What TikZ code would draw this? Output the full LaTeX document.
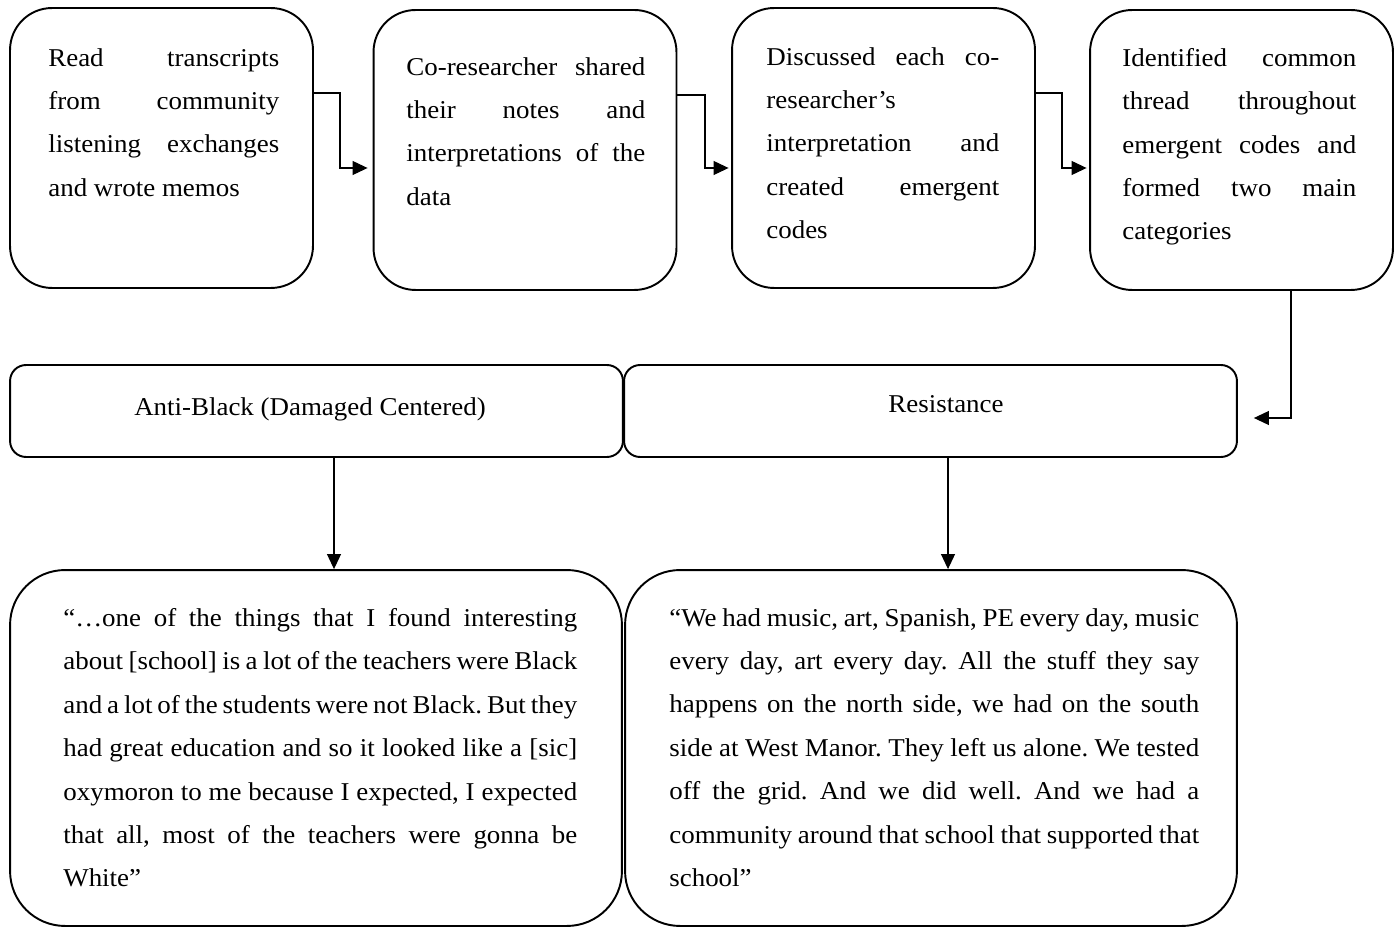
\documentclass[tikz,border=0pt]{standalone}
\usepackage{fontspec}
\setmainfont{Liberation Serif}[FakeStretch=1.05]
\usepackage{tikz}
\usetikzlibrary{arrows.meta}
\pgfdeclarelayer{edgelayer}
\pgfdeclarelayer{nodelayer}
\pgfsetlayers{edgelayer,nodelayer,main}
\frenchspacing
\hyphenpenalty=10000
\tolerance=10000
\newcommand{\memofont}{\fontsize{14.6}{24.7}\selectfont}
\tikzstyle{none}=[inner sep=0pt]
\tikzstyle{stage}=[draw=black,line width=1.1pt,rounded corners=0.84cm,minimum width=6.06cm,minimum height=5.6cm]
\tikzstyle{category}=[draw=black,line width=1.1pt,rounded corners=0.32cm,minimum width=12.26cm,minimum height=1.84cm]
\tikzstyle{excerpt}=[draw=black,line width=1.1pt,rounded corners=1.1cm,minimum width=12.24cm,minimum height=7.12cm]
\tikzstyle{body}=[inner sep=0pt,anchor=north west,align=justify,font=\memofont]
\tikzstyle{caption}=[inner sep=0pt,font=\memofont]
\tikzstyle{transition}=[-{Triangle[length=0.3cm,width=0.28cm]},draw=black,line width=0.6pt]

\begin{document}
\begin{tikzpicture}[x=0.02cm,y=-0.02cm]
	\useasboundingbox (0,0) rectangle (1399,928);
	\begin{pgfonlayer}{nodelayer}
		\node [style=stage] (0) at (161.5, 148) {};
		\node [style=stage] (1) at (525, 150) {};
		\node [style=stage] (2) at (883.5, 148) {};
		\node [style=stage] (3) at (1241.5, 150) {};
		\node [style=category] (4) at (316.5, 411) {};
		\node [style=category] (5) at (930.5, 411) {};
		\node [style=excerpt] (6) at (316, 748) {};
		\node [style=excerpt] (7) at (931, 748) {};
		\node [style=body, text width=4.62cm] (8) at (48, 48) {Read transcripts\linebreak from community\linebreak listening exchanges\linebreak and wrote memos};
		\node [style=body, text width=4.78cm] (9) at (406, 57) {Co-researcher shared\linebreak their notes and\linebreak interpretations of the\linebreak data};
		\node [style=body, text width=4.66cm] (10) at (766, 47) {Discussed each co-\linebreak researcher’s\linebreak interpretation and\linebreak created emergent\linebreak codes};
		\node [style=body, text width=4.68cm] (11) at (1122, 48) {Identified common\linebreak thread throughout\linebreak emergent codes and\linebreak formed two main\linebreak categories};
		\node [style=caption] (12) at (310, 409) {Anti-Black (Damaged Centered)};
		\node [style=caption] (13) at (946, 404) {Resistance};
		\node [style=body, text width=10.28cm] (14) at (63, 608) {“…one of the things that I found interesting\linebreak about [school] is a lot of the teachers were Black\linebreak and a lot of the students were not Black. But they\linebreak had great education and so it looked like a [sic]\linebreak oxymoron to me because I expected, I expected\linebreak that all, most of the teachers were gonna be\linebreak White”};
		\node [style=body, text width=10.6cm] (15) at (669, 608) {“We had music, art, Spanish, PE every day, music\linebreak every day, art every day. All the stuff they say\linebreak happens on the north side, we had on the south\linebreak side at West Manor. They left us alone. We tested\linebreak off the grid. And we did well. And we had a\linebreak community around that school that supported that\linebreak school”};
		\node [style=none] (16) at (340, 93) {};
		\node [style=none] (17) at (340, 168) {};
		\node [style=none] (18) at (705, 95) {};
		\node [style=none] (19) at (705, 168) {};
		\node [style=none] (20) at (1062, 93) {};
		\node [style=none] (21) at (1062, 168) {};
		\node [style=none] (22) at (1291, 418) {};
		\node [style=none] (23) at (334, 457) {};
		\node [style=none] (24) at (948, 457) {};
	\end{pgfonlayer}
	\begin{pgfonlayer}{edgelayer}
		\draw [style=transition, shorten >=0.1cm] (0.east |- 16.center) -- (16.center) -- (17.center) -- (1.west |- 17.center);
		\draw [style=transition, shorten >=0.05cm] (1.east |- 18.center) -- (18.center) -- (19.center) -- (2.west |- 19.center);
		\draw [style=transition, shorten >=0.05cm] (2.east |- 20.center) -- (20.center) -- (21.center) -- (3.west |- 21.center);
		\draw [style=transition, shorten >=0.32cm] (3.south -| 22.center) -- (22.center) -- (5.east |- 22.center);
		\draw [style=transition] (23.center) -- (6.north -| 23.center);
		\draw [style=transition] (24.center) -- (7.north -| 24.center);
	\end{pgfonlayer}
\end{tikzpicture}
\end{document}
